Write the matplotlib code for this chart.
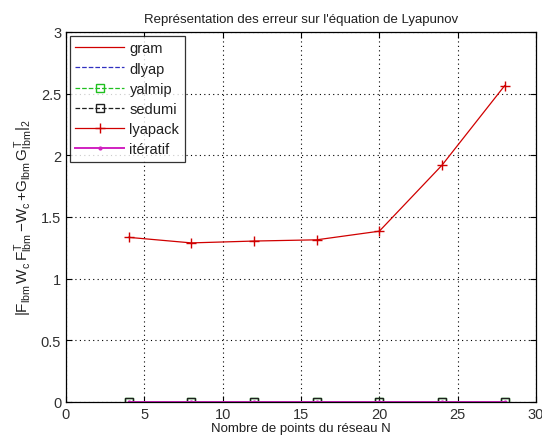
import matplotlib
matplotlib.use("Agg")
import matplotlib.pyplot as plt
import numpy as np

plt.rcParams['font.family'] = ['Liberation Sans', 'DejaVu Sans']
plt.rcParams['mathtext.fontset'] = 'custom'
plt.rcParams['mathtext.rm'] = 'Liberation Sans'
plt.rcParams['mathtext.it'] = 'Liberation Sans'
plt.rcParams['mathtext.bf'] = 'Liberation Sans'

N = [4, 8, 12, 16, 20, 24, 28]
gram = [0, 0, 0, 0, 0, 0, 0]
dlyap = [0, 0, 0, 0, 0, 0, 0]
yalmip = [0, 0, 0, 0, 0, 0, 0]
sedumi = [0, 0, 0, 0, 0, 0, 0]
lyapack = [1.335, 1.29, 1.305, 1.315, 1.385, 1.92, 2.565]
iteratif = [0, 0, 0, 0, 0, 0, 0]

fig = plt.figure(figsize=(5.42, 4.39), dpi=100)
ax = fig.add_axes([66/542, 36/439, 470/542, 370/439])

ax.plot(N, gram, '-', color='#d00000', lw=0.9, label='gram')
ax.plot(N, dlyap, '--', color='#3030c0', lw=0.9, label='dlyap')
ax.plot(N, yalmip, '--', color='#20c020', lw=0.9, marker='s', ms=6,
        mfc='none', mec='#20c020', label='yalmip')
ax.plot(N, sedumi, '--', color='#202020', lw=0.9, marker='s', ms=6,
        mfc='none', mec='#202020', label='sedumi')
ax.plot(N, lyapack, '-', color='#d00000', lw=0.9, marker='+', ms=7,
        mew=1.0, label='lyapack')
ax.plot(N, iteratif, '-', color='#d020c0', lw=1.4, marker='.', ms=4,
        label='itératif')

ax.set_xlim(0, 30)
ax.set_ylim(0, 3)
ax.set_xticks([0, 5, 10, 15, 20, 25, 30])
ax.set_yticks([0, 0.5, 1, 1.5, 2, 2.5, 3])
ax.set_yticklabels(['0', '0.5', '1', '1.5', '2', '2.5', '3'])
ax.tick_params(direction='in', length=4, labelsize=10.5, top=True, right=True,
               color='black', labelcolor='#303030')
ax.grid(True, linestyle=(0, (1, 3)), color='black', lw=0.8)
for s in ax.spines.values():
    s.set_color('black')
    s.set_linewidth(0.9)

ax.set_title("Représentation des erreur sur l'équation de Lyapunov",
             fontsize=9.5, pad=7, color='#202020')
ax.set_xlabel('Nombre de points du réseau N', fontsize=9.5, labelpad=1,
              color='#202020')
ax.set_ylabel(r'$|F_{lbm}\,W_c\,F^T_{lbm}\,\mathrm{-}W_c\,\mathrm{+}G_{lbm}\,G^T_{lbm}|_2$',
              fontsize=11, labelpad=4, color='#202020')

leg = ax.legend(loc='upper left', fontsize=10.5, frameon=True, fancybox=False,
                edgecolor='black', handlelength=3.3, borderaxespad=0.25,
                labelspacing=0.42, borderpad=0.4, numpoints=1,
                handletextpad=0.4)
leg.get_frame().set_linewidth(0.9)
for t in leg.get_texts():
    t.set_color('#202020')

fig.savefig('out.png', dpi=100)
